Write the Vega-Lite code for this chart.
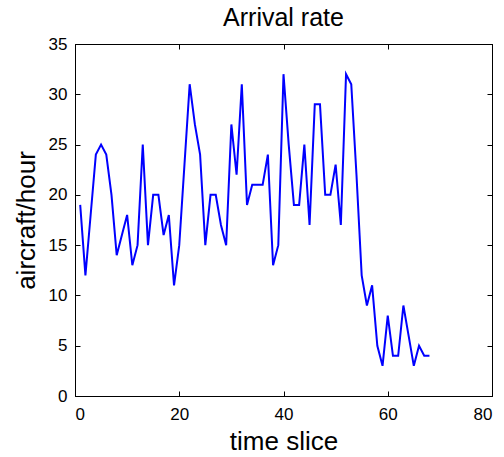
{
  "$schema": "https://vega.github.io/schema/vega-lite/v6.json",
  "autosize": "none",
  "width": 417,
  "height": 352,
  "padding": {"left": 75, "top": 44, "right": 12, "bottom": 61},
  "background": "white",
  "config": {
    "view": {"stroke": "black", "strokeWidth": 1},
    "font": "Liberation Sans",
    "axis": {
      "grid": false,
      "domainColor": "black",
      "tickColor": "black",
      "tickSize": -5,
      "labelColor": "black",
      "labelFontSize": 17,
      "labelFont": "Liberation Sans",
      "titleFont": "Liberation Sans",
      "titleFontSize": 26,
      "titleFontWeight": "normal",
      "titleColor": "black"
    },
    "title": {"font": "Liberation Sans", "fontSize": 25, "fontWeight": "normal", "color": "black", "baseline": "alphabetic"}
  },
  "title": {"text": "Arrival rate", "offset": 4},
  "data": {
    "values": [
      {"t": 1, "v": 19}, {"t": 2, "v": 12}, {"t": 3, "v": 18}, {"t": 4, "v": 24}, {"t": 5, "v": 25},
      {"t": 6, "v": 24}, {"t": 7, "v": 20}, {"t": 8, "v": 14}, {"t": 9, "v": 16}, {"t": 10, "v": 18},
      {"t": 11, "v": 13}, {"t": 12, "v": 15}, {"t": 13, "v": 25}, {"t": 14, "v": 15}, {"t": 15, "v": 20},
      {"t": 16, "v": 20}, {"t": 17, "v": 16}, {"t": 18, "v": 18}, {"t": 19, "v": 11}, {"t": 20, "v": 15},
      {"t": 21, "v": 23}, {"t": 22, "v": 31}, {"t": 23, "v": 27}, {"t": 24, "v": 24}, {"t": 25, "v": 15},
      {"t": 26, "v": 20}, {"t": 27, "v": 20}, {"t": 28, "v": 17}, {"t": 29, "v": 15}, {"t": 30, "v": 27},
      {"t": 31, "v": 22}, {"t": 32, "v": 31}, {"t": 33, "v": 19}, {"t": 34, "v": 21}, {"t": 35, "v": 21},
      {"t": 36, "v": 21}, {"t": 37, "v": 24}, {"t": 38, "v": 13}, {"t": 39, "v": 15}, {"t": 40, "v": 32},
      {"t": 41, "v": 25}, {"t": 42, "v": 19}, {"t": 43, "v": 19}, {"t": 44, "v": 25}, {"t": 45, "v": 17},
      {"t": 46, "v": 29}, {"t": 47, "v": 29}, {"t": 48, "v": 20}, {"t": 49, "v": 20}, {"t": 50, "v": 23},
      {"t": 51, "v": 17}, {"t": 52, "v": 32}, {"t": 53, "v": 31}, {"t": 54, "v": 22}, {"t": 55, "v": 12},
      {"t": 56, "v": 9}, {"t": 57, "v": 11}, {"t": 58, "v": 5}, {"t": 59, "v": 3}, {"t": 60, "v": 8},
      {"t": 61, "v": 4}, {"t": 62, "v": 4}, {"t": 63, "v": 9}, {"t": 64, "v": 6}, {"t": 65, "v": 3},
      {"t": 66, "v": 5}, {"t": 67, "v": 4}, {"t": 68, "v": 4}
    ]
  },
  "layer": [
    {
      "mark": {"type": "line", "color": "#0000ff", "strokeWidth": 2},
      "encoding": {
        "x": {"field": "t", "type": "quantitative", "scale": {"domain": [0, 80], "nice": false},
              "axis": {"values": [0, 20, 40, 60, 80], "title": "time slice", "labelPadding": 15, "titlePadding": 6}},
        "y": {"field": "v", "type": "quantitative", "scale": {"domain": [0, 35], "nice": false},
              "axis": {"values": [0, 5, 10, 15, 20, 25, 30, 35], "title": "aircraft/hour", "labelPadding": 13, "titlePadding": 9}}
      }
    },
    {
      "mark": {"type": "line", "opacity": 0},
      "encoding": {
        "x": {"field": "t", "type": "quantitative",
              "axis": {"orient": "top", "values": [0, 20, 40, 60, 80], "labels": false, "title": null}},
        "y": {"field": "v", "type": "quantitative",
              "axis": {"orient": "right", "values": [0, 5, 10, 15, 20, 25, 30, 35], "labels": false, "title": null}}
      }
    }
  ],
  "resolve": {"axis": {"x": "independent", "y": "independent"}}
}
